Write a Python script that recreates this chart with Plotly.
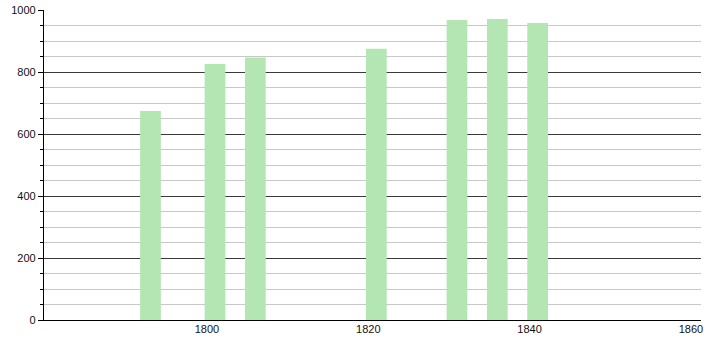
import plotly.graph_objects as go

years = [1793, 1801, 1806, 1821, 1831, 1836, 1841]
population = [675, 827, 848, 876, 969, 972, 959]
x_tick_labels = [1800, 1820, 1840, 1860]
y_tick_labels = [0, 200, 400, 600, 800, 1000]
y_minor_ticks = [v for v in range(50, 1000, 50) if v % 200]

fig = go.Figure(
    go.Bar(
        x=years,
        y=population,
        width=2.57,
        marker=dict(color="#b3e6b3", line=dict(width=0)),
        hoverinfo="x+y",
    )
)

font = dict(family="Liberation Sans, Arial, sans-serif", size=11, color="#111")

fig.update_layout(
    width=710,
    height=340,
    margin=dict(l=44, r=9, t=10, b=20, autoexpand=False),
    plot_bgcolor="white",
    paper_bgcolor="white",
    showlegend=False,
    font=font,
)

fig.update_xaxes(
    automargin=False,
    range=[1779.8, 1861.25],
    tickvals=x_tick_labels,
    ticktext=[str(v) for v in x_tick_labels],
    showgrid=False,
    zeroline=False,
    showline=True,
    linecolor="#000",
    linewidth=1.2,
    ticks="",
    ticklabelstandoff=-1,
)

fig.update_yaxes(
    automargin=False,
    range=[0, 1001],
    tickvals=y_tick_labels,
    ticktext=[str(v) for v in y_tick_labels],
    showgrid=True,
    gridcolor="#3a3a3a",
    gridwidth=1,
    zeroline=False,
    showline=True,
    linecolor="#000",
    linewidth=1.2,
    ticks="outside",
    ticklen=5,
    tickcolor="#000",
    minor=dict(
        tickvals=y_minor_ticks,
        ticks="outside",
        ticklen=3,
        tickcolor="#000",
        showgrid=True,
        gridcolor="#c8c8c8",
        gridwidth=1,
    ),
)

fig.write_html("out.html")
